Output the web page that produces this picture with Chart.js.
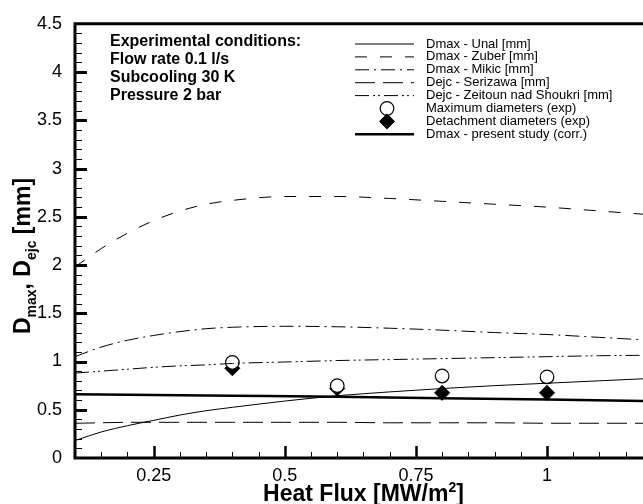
<!DOCTYPE html>
<html>
<head>
<meta charset="utf-8">
<script src="https://cdn.jsdelivr.net/npm/chart.js@4/dist/chart.umd.min.js"></script>
<style>
html, body { margin: 0; padding: 0; background: #fff; overflow: hidden; }
#wrap { position: relative; width: 643px; height: 504px; }
</style>
</head>
<body>
<div id="wrap"><canvas id="chart" width="643" height="504"></canvas></div>
<script>
// heat flux grid the curves were read at [MW/m2]
const fluxGrid = [0.1, 0.15, 0.2, 0.25, 0.3, 0.35, 0.4, 0.5, 0.6, 0.7, 0.8, 0.9, 1.0, 1.1, 1.2];
const dmaxUnal     = [0.18, 0.27, 0.335, 0.39, 0.445, 0.49, 0.525, 0.59, 0.645, 0.685, 0.72, 0.75, 0.775, 0.80, 0.825];
const dmaxZuber    = [1.98, 2.17, 2.33, 2.46, 2.56, 2.63, 2.67, 2.71, 2.71, 2.69, 2.66, 2.63, 2.60, 2.56, 2.52];
const dmaxMikic    = [1.05, 1.15, 1.22, 1.27, 1.31, 1.34, 1.355, 1.365, 1.36, 1.345, 1.325, 1.30, 1.28, 1.25, 1.22];
const dejcSerizawa = [0.36, 0.365, 0.37, 0.37, 0.37, 0.37, 0.37, 0.37, 0.37, 0.365, 0.365, 0.365, 0.36, 0.36, 0.36];
const dejcZeitoun  = [0.88, 0.90, 0.92, 0.94, 0.955, 0.965, 0.98, 0.995, 1.01, 1.02, 1.03, 1.04, 1.05, 1.06, 1.065];

// present correlation
const corrFlux = [0.1, 0.4, 0.6, 0.8, 1.0, 1.2];
const dmaxCorr = [0.66, 0.645, 0.635, 0.62, 0.605, 0.59];

// experiments
const expFlux = [0.4, 0.6, 0.8, 1.0];
const maxDiam = [0.99, 0.75, 0.85, 0.84];
const detachDiam = [0.93, 0.72, 0.675, 0.675];

const xTickLabels = [0.25, 0.5, 0.75, 1.0];
const yTickLabels = [0, 0.5, 1, 1.5, 2, 2.5, 3, 3.5, 4, 4.5];
const xAxisEnd = 1.183;   // picture is cut off here (axis runs to 1.2)

const conditions = ['Experimental conditions:', 'Flow rate 0.1 l/s', 'Subcooling 30 K', 'Pressure 2 bar'];

const FONT = '"Liberation Sans", Arial, Helvetica, sans-serif';

function toXY(xs, ys) {
    return xs.map((x, i) => ({ x: x, y: ys[i] }));
}

function curve(label, xs, ys, dash, width) {
    return {
        label: label,
        data: toXY(xs, ys),
        showLine: true,
        borderColor: '#000',
        backgroundColor: '#000',
        borderWidth: width,
        borderDash: dash,
        pointRadius: 0,
        cubicInterpolationMode: 'monotone',
        fill: false
    };
}

// pieces of text drawn with changing size / offset
function drawRich(ctx, parts, cx, cy) {
    let total = 0;
    parts.forEach(p => { ctx.font = 'bold ' + p[1] + 'px ' + FONT; total += ctx.measureText(p[0]).width; });
    let px = cx - total / 2;
    parts.forEach(p => {
        ctx.font = 'bold ' + p[1] + 'px ' + FONT;
        ctx.fillText(p[0], px, cy + p[2]);
        px += ctx.measureText(p[0]).width;
    });
}

// frame, inward ticks, axis titles, text block, legend
const decor = {
    id: 'decor',
    afterDraw(chart) {
        const { ctx, chartArea: a, scales: { x, y } } = chart;
        ctx.save();
        ctx.strokeStyle = '#000';
        ctx.fillStyle = '#000';
        ctx.setLineDash([]);

        // x ticks every 0.05, major every 0.25
        for (let k = 2; k <= 24; k++) {
            const px = Math.round(x.getPixelForValue(k * 0.05)) + 0.5;
            const major = k % 5 === 0;
            ctx.lineWidth = major ? 2.5 : 1;
            ctx.beginPath();
            ctx.moveTo(px, a.bottom);
            ctx.lineTo(px, a.bottom - (major ? 12 : 6));
            ctx.stroke();
        }
        // y ticks every 0.1, major every 0.5
        for (let k = 1; k < 45; k++) {
            const py = Math.round(y.getPixelForValue(k * 0.1)) + 0.5;
            const major = k % 5 === 0;
            ctx.lineWidth = major ? 3 : 1;
            ctx.beginPath();
            ctx.moveTo(a.left, py);
            ctx.lineTo(a.left + (major ? 12 : 7), py);
            ctx.stroke();
        }
        // frame
        ctx.lineWidth = 3;
        ctx.beginPath();
        ctx.moveTo(a.right + 2, a.top);
        ctx.lineTo(a.left, a.top);
        ctx.lineTo(a.left, a.bottom);
        ctx.lineTo(a.right + 2, a.bottom);
        ctx.stroke();

        ctx.textAlign = 'left';
        ctx.textBaseline = 'alphabetic';

        // x axis title, centred on the full 0.1 - 1.2 axis
        const xMid = (x.getPixelForValue(0.1) + x.getPixelForValue(1.2)) / 2;
        drawRich(ctx, [['Heat Flux [MW/m', 23, 0], ['2', 14, -9], [']', 23, 0]], xMid, 501);

        // y axis title with subscripts
        ctx.save();
        ctx.translate(30, 256);
        ctx.rotate(-Math.PI / 2);
        drawRich(ctx, [['D', 23, 0], ['max', 14, 6], [', D', 23, 0], ['ejc', 14, 6], [' [mm]', 23, 0]], 0, 0);
        ctx.restore();

        // conditions
        ctx.font = 'bold 16px ' + FONT;
        conditions.forEach((t, i) => ctx.fillText(t, 110, 46 + i * 18));

        // legend
        ctx.font = '13px ' + FONT;
        ctx.textBaseline = 'middle';
        chart.data.datasets.forEach((ds, i) => {
            const ry = 44 + i * 12.9;
            if (ds.showLine) {
                ctx.lineWidth = ds.borderWidth;
                ctx.setLineDash(ds.borderDash || []);
                ctx.beginPath();
                ctx.moveTo(355, ry);
                ctx.lineTo(414, ry);
                ctx.stroke();
                ctx.setLineDash([]);
            } else {
                ctx.fillStyle = ds.pointBackgroundColor;
                ctx.strokeStyle = ds.pointBorderColor;
                ctx.lineWidth = ds.pointBorderWidth;
                Chart.helpers.drawPoint(ctx, { pointStyle: ds.pointStyle, radius: ds.pointRadius, borderWidth: ds.pointBorderWidth }, 387, ry);
                ctx.fillStyle = '#000';
                ctx.strokeStyle = '#000';
            }
            ctx.fillText(ds.label, 426, ry);
        });
        ctx.restore();
    }
};

new Chart(document.getElementById('chart'), {
    type: 'scatter',
    data: {
        datasets: [
            curve('Dmax - Unal [mm]', fluxGrid, dmaxUnal, [], 1),
            curve('Dmax - Zuber [mm]', fluxGrid, dmaxZuber, [12, 13], 1),
            curve('Dmax - Mikic [mm]', fluxGrid, dmaxMikic, [14, 5, 2, 5], 1),
            curve('Dejc - Serizawa [mm]', fluxGrid, dejcSerizawa, [20, 8], 1),
            curve('Dejc - Zeitoun nad Shoukri [mm]', fluxGrid, dejcZeitoun, [14, 4, 2, 3, 2, 4], 1),
            {
                label: 'Maximum diameters (exp)',
                data: toXY(expFlux, maxDiam),
                showLine: false,
                pointStyle: 'circle',
                pointRadius: 6.8,
                pointBackgroundColor: '#fff',
                pointBorderColor: '#000',
                pointBorderWidth: 1.2
            },
            {
                label: 'Detachment diameters (exp)',
                data: toXY(expFlux, detachDiam),
                showLine: false,
                pointStyle: 'rectRot',
                pointRadius: 7.5,
                pointBackgroundColor: '#000',
                pointBorderColor: '#000',
                pointBorderWidth: 1
            },
            curve('Dmax - present study (corr.)', corrFlux, dmaxCorr, [], 2.5)
        ]
    },
    options: {
        responsive: false,
        animation: false,
        layout: { autoPadding: false, padding: { top: 16, left: 0, right: 0, bottom: 0 } },
        plugins: { legend: { display: false }, tooltip: { enabled: false } },
        scales: {
            x: {
                type: 'linear',
                min: 0.1,
                max: xAxisEnd,
                afterBuildTicks: s => { s.ticks = xTickLabels.map(v => ({ value: v })); },
                afterFit: s => { s.height = 46; s.paddingLeft = 0; s.paddingRight = 0; },
                grid: { display: false, drawTicks: false },
                border: { display: false },
                ticks: {
                    color: '#000',
                    font: { family: FONT, size: 18 },
                    padding: 7,
                    maxRotation: 0,
                    autoSkip: false,
                    callback: v => String(v)
                }
            },
            y: {
                min: 0,
                max: 4.5,
                afterBuildTicks: s => { s.ticks = yTickLabels.map(v => ({ value: v })); },
                afterFit: s => { s.width = 75; },
                grid: { display: false, drawTicks: false },
                border: { display: false },
                ticks: {
                    color: '#000',
                    font: { family: FONT, size: 18 },
                    padding: 13,
                    autoSkip: false,
                    callback: v => String(v)
                }
            }
        }
    },
    plugins: [decor]
});
</script>
</body>
</html>
